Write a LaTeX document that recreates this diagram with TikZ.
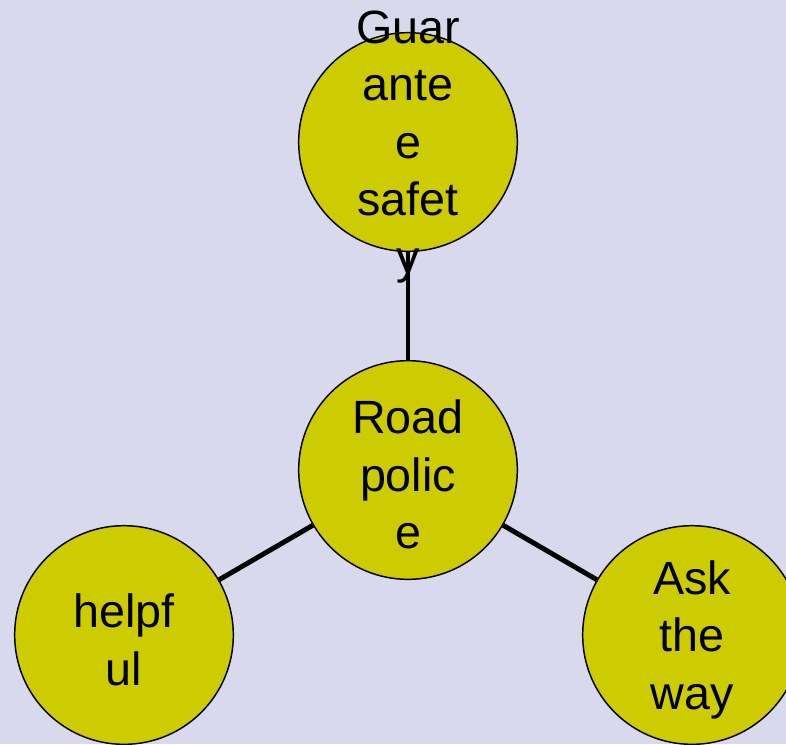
\documentclass[tikz,border=0pt]{standalone}
\usepackage{fontspec}
\setmainfont{Liberation Sans}
\definecolor{lavback}{RGB}{217,217,237}
\definecolor{olivebub}{RGB}{204,204,0}

\begin{document}
\begin{tikzpicture}[x=0.75pt,y=-0.75pt,
    bub/.style={circle,draw=black,line width=1.1pt,fill=olivebub,minimum size=164pt,inner sep=0pt},
    txt/.style={align=center,yshift=-3.5pt,font=\fontsize{35}{43.1}\selectfont}]
    \fill[lavback] (0,0) rectangle (786,744);
    \useasboundingbox (0,0) rectangle (786,744);

    \node[bub,label={[txt]center:Road\\polic\\e}] (1) at (408,470) {};
    \node[bub,label={[txt]center:Guar\\ante\\e\\safet\\y}] (2) at (408,142) {};
    \node[bub,label={[txt]center:helpf\\ul}] (3) at (124,635) {};
    \node[bub,label={[txt]center:Ask\\the\\way}] (4) at (692,635) {};

    \path[black,line width=3.7pt]
    (1) edge (2)
    (1) edge (3)
    (1) edge (4)
    ;
  \end{tikzpicture}
\end{document}
